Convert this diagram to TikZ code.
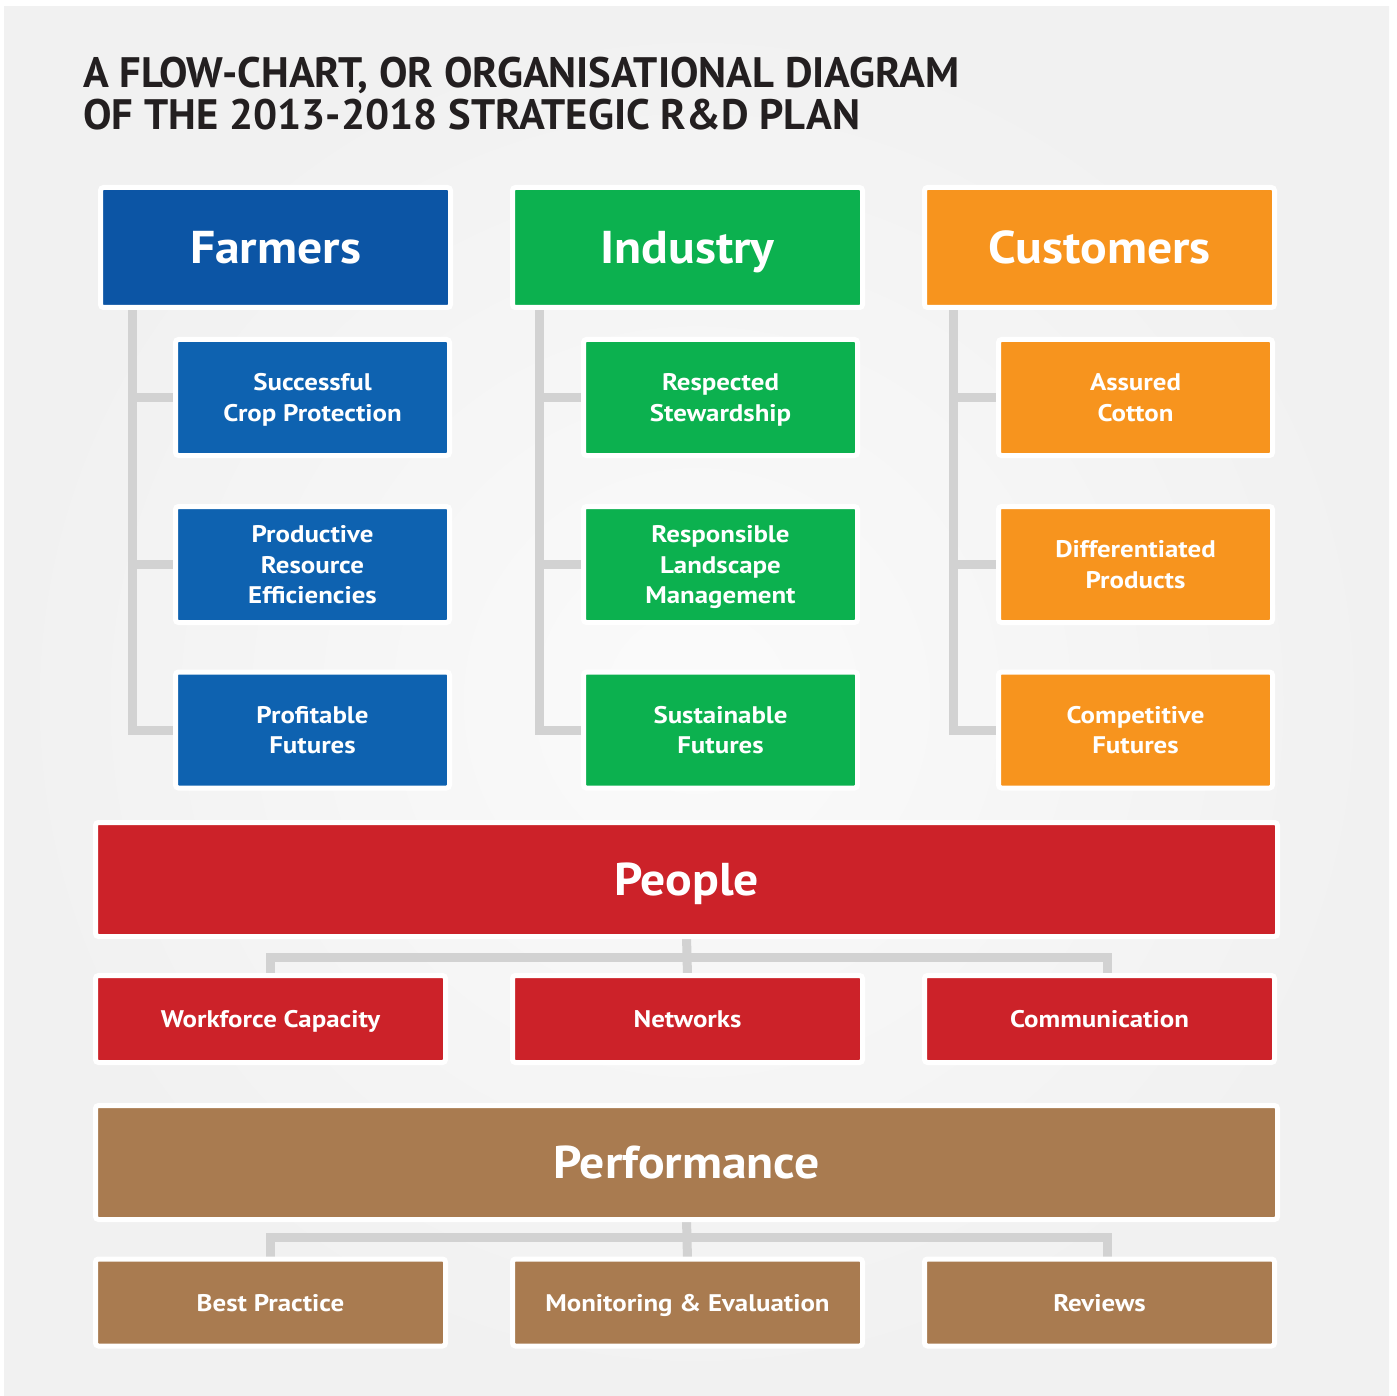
\documentclass[tikz,border=0pt]{standalone}
\usepackage{fontspec}
\setmainfont{PT Sans}
\newfontfamily\hfont{PT Sans}[FakeStretch=1.08]
\newfontfamily\sfont{PT Sans}[FakeStretch=1.12]
\usetikzlibrary{backgrounds}
\definecolor{panel}{HTML}{F1F1F1}
\definecolor{titlec}{HTML}{231F20}
\definecolor{fblueH}{HTML}{0C55A5}
\definecolor{fblue}{HTML}{0E62B0}
\definecolor{igreen}{HTML}{0CB14F}
\definecolor{corange}{HTML}{F7941E}
\definecolor{pred}{HTML}{CC2229}
\definecolor{pbrown}{HTML}{A97B50}
\definecolor{lgrey}{HTML}{D2D2D2}
\tikzset{
  box/.style={draw=white, line width=5pt, rounded corners=3pt, outer sep=0pt, inner sep=0pt, text=white, align=center, text depth=0pt},
  hdr/.style={box, minimum width=350pt, minimum height=120pt, text height=32pt, font=\hfont\bfseries\fontsize{46}{50}\selectfont},
  subbox/.style={box, minimum width=274pt, minimum height=116pt, font=\sfont\bfseries\fontsize{24}{30.5}\selectfont},
  bar/.style={box, minimum width=1182pt, minimum height=114pt, text height=32pt, font=\hfont\bfseries\fontsize{46}{50}\selectfont},
  leaf/.style={box, minimum width=350pt, minimum height=87pt, text height=17pt, font=\sfont\bfseries\fontsize{24}{30}\selectfont},
  conn/.style={draw=lgrey, line width=9pt},
  titletext/.style={text=titlec, font=\bfseries\fontsize{42.6}{46}\selectfont, inner sep=0pt, anchor=base west},
}
\begin{document}
\begin{tikzpicture}[x=1pt,y=-1pt]
\useasboundingbox (0,0) rectangle (1397,1396);
\begin{scope}[on background layer]
  \fill[white] (0,0) rectangle (1397,1396);
  \shade[inner color=white!70!panel, outer color=panel] (4,7) rectangle (1389,1396);
\end{scope}

% title
\node[titletext] (t1) at (83,88) {A FLOW-CHART, OR ORGANISATIONAL DIAGRAM};
\node[titletext] (t2) at (83,130) {OF THE 2013-2018 STRATEGIC R\&D PLAN};

% headers
\node[hdr, fill=fblueH] (farmers) at (275.5,247.5) {Farmers};
\node[hdr, fill=igreen] (industry) at (687.5,247.5) {Industry};
\node[hdr, fill=corange] (customers) at (1099.5,247.5) {Customers};

% farmers subs
\node[subbox, fill=fblue] (f1) at (312.5,397.5) {Successful\\Crop Protection};
\node[subbox, fill=fblue] (f2) at (312.5,564.5) {Productive\\Resource\\Efficiencies};
\node[subbox, fill=fblue] (f3) at (312.5,730) {Profitable\\Futures};
% industry subs
\node[subbox, fill=igreen] (i1) at (720.5,397.5) {Respected\\Stewardship};
\node[subbox, fill=igreen] (i2) at (720.5,564.5) {Responsible\\Landscape\\Management};
\node[subbox, fill=igreen] (i3) at (720.5,730) {Sustainable\\Futures};
% customers subs
\node[subbox, fill=corange] (c1) at (1135.5,397.5) {Assured\\Cotton};
\node[subbox, fill=corange] (c2) at (1135.5,564.5) {Differentiated\\Products};
\node[subbox, fill=corange] (c3) at (1135.5,730) {Competitive\\Futures};

% people
\node[bar, fill=pred] (people) at (686.5,879.5) {People};
\node[leaf, fill=pred] (workforce) at (270.5,1019) {Workforce Capacity};
\node[leaf, fill=pred] (networks) at (687.5,1019) {Networks};
\node[leaf, fill=pred] (communication) at (1099.5,1019) {Communication};

% performance
\node[bar, fill=pbrown] (performance) at (686.5,1162.5) {Performance};
\node[leaf, fill=pbrown] (bestpractice) at (270.5,1302.5) {Best Practice};
\node[leaf, fill=pbrown] (monitoring) at (687.5,1302.5) {Monitoring \& Evaluation};
\node[leaf, fill=pbrown] (reviews) at (1099.5,1302.5) {Reviews};

\coordinate (pmid) at (687,957);
\coordinate (qmid) at (687,1237);

\begin{scope}[on background layer]
  \draw[conn] ([xshift=32pt]farmers.south west) |- (f1.west);
  \draw[conn] ([xshift=32pt]farmers.south west) |- (f2.west);
  \draw[conn] ([xshift=32pt]farmers.south west) |- (f3.west);
  \draw[conn] ([xshift=26.5pt]industry.south west) |- (i1.west);
  \draw[conn] ([xshift=26.5pt]industry.south west) |- (i2.west);
  \draw[conn] ([xshift=26.5pt]industry.south west) |- (i3.west);
  \draw[conn] ([xshift=29pt]customers.south west) |- (c1.west);
  \draw[conn] ([xshift=29pt]customers.south west) |- (c2.west);
  \draw[conn] ([xshift=29pt]customers.south west) |- (c3.west);

  \draw[conn] (workforce.north) |- (pmid) -| ([xshift=8pt]communication.north);
  \draw[conn] (people.south) -- (networks.north);

  \draw[conn] (bestpractice.north) |- (qmid) -| ([xshift=8pt]reviews.north);
  \draw[conn] (performance.south) -- (monitoring.north);
\end{scope}
\end{tikzpicture}
\end{document}
